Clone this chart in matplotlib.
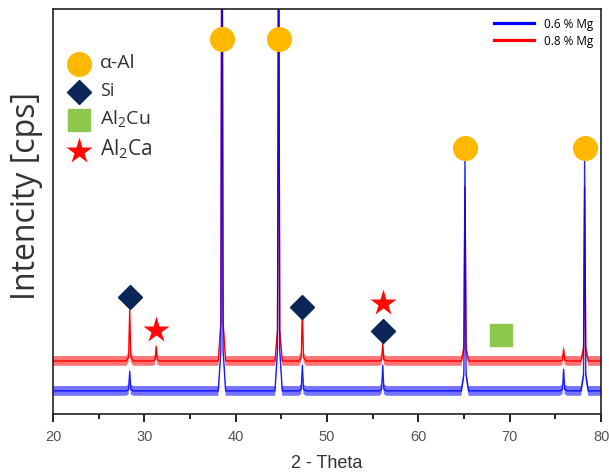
import matplotlib
matplotlib.use('Agg')
import matplotlib.pyplot as plt
import numpy as np

# peak positions (2-theta) and peak tops (arbitrary units, axis 0..100)
blue_base = 5.7
red_base = 13.1
blue_peaks = [28.4, 38.5, 44.7, 47.3, 56.1, 65.1, 75.9, 78.2]
blue_tops = [10.5, 150, 150, 12.0, 12.0, 63.5, 11.0, 62.5]
red_peaks = [28.4, 31.3, 38.5, 44.7, 47.3, 56.1, 65.1, 75.9, 78.2]
red_tops = [25.6, 16.6, 150, 120, 26.0, 17.4, 56.0, 16.0, 56.0]

# phase markers
al_x = [38.5, 44.7, 65.1, 78.2]
al_y = [92.6, 92.6, 65.7, 65.7]
si_x = [28.4, 47.3, 56.1]
si_y = [28.9, 26.4, 20.5]
cu_x = [69.0]
cu_y = [19.5]
ca_x = [31.3, 56.1]
ca_y = [20.7, 27.4]


def trace(peaks, tops, base):
    xs = [20.0]
    ys = [base]
    for p, t in zip(peaks, tops):
        h = t - base
        xs += [p - 0.4, p - 0.12, p, p + 0.12, p + 0.4]
        ys += [base, base + 0.07 * h, t, base + 0.07 * h, base]
    xs.append(80.0)
    ys.append(base)
    return np.array(xs), np.array(ys)


fig = plt.figure(figsize=(6.09, 4.77), dpi=100)
ax = fig.add_axes([0.087, 0.130, 0.900, 0.849])

rx, ry = trace(red_peaks, red_tops, red_base)
bx, by = trace(blue_peaks, blue_tops, blue_base)

ax.fill_between(rx, ry - 1.2, ry + 1.2, color='#ff0000', alpha=0.55, lw=0)
ax.plot(rx, ry, color='#ff0000', lw=1.0, label='0.8 % Mg')
ax.fill_between(bx, by - 1.2, by + 1.2, color='#0000ff', alpha=0.55, lw=0)
ax.plot(bx, by, color='#0000ff', lw=1.0, alpha=0.85, label='0.6 % Mg')

ms = 17
ax.plot(al_x, al_y, 'o', color='#ffb800', ms=ms, mec='#ffb800', zorder=5)
ax.plot(si_x, si_y, 'D', color='#0c2557', ms=ms * 0.72, zorder=5)
ax.plot(cu_x, cu_y, 's', color='#8cc84b', ms=ms * 0.9, zorder=5)
ax.plot(ca_x, ca_y, '*', color='#ff0a0a', ms=ms * 1.15, mec='none', zorder=5)

# phase legend
lx = 0.047
tx = 0.086
tc = '#333333'
ax.plot([lx], [0.864], 'o', color='#ffb800', ms=ms, transform=ax.transAxes, clip_on=False)
ax.plot([lx], [0.795], 'D', color='#0c2557', ms=ms * 0.72, transform=ax.transAxes, clip_on=False)
ax.plot([lx], [0.726], 's', color='#8cc84b', ms=ms * 0.9, transform=ax.transAxes, clip_on=False)
ax.plot([lx], [0.650], '*', color='#ff0a0a', ms=ms * 1.15, mec='none', transform=ax.transAxes, clip_on=False)
ax.text(tx, 0.868, '\u03b1-Al', transform=ax.transAxes, va='center', fontsize=14,
        family='Open Sans', color=tc)
ax.text(tx, 0.799, 'Si', transform=ax.transAxes, va='center', fontsize=13,
        family='Open Sans', color=tc)
ax.text(tx, 0.730, r'Al$_\mathregular{2}$Cu', transform=ax.transAxes, va='center', fontsize=14,
        family='Open Sans', color=tc)
ax.text(tx, 0.656, r'Al$_\mathregular{2}$Ca', transform=ax.transAxes, va='center', fontsize=15,
        family='Open Sans', color=tc)

handles, labels = ax.get_legend_handles_labels()
leg = ax.legend(handles[::-1], labels[::-1], loc='upper right', frameon=False,
                handlelength=3.4, borderaxespad=0.3, labelspacing=0.35,
                prop={'family': 'Open Sans', 'size': 8.5})
for h in leg.get_lines():
    h.set_linewidth(2.3)
    h.set_alpha(1)

ax.set_xlim(20, 80)
ax.set_ylim(0, 100)
ax.set_yticks([])
ax.set_xticks(np.arange(20, 81, 10))
ax.set_xticks(np.arange(25, 80, 10), minor=True)
ax.tick_params(axis='x', which='major', length=6, width=1.2, labelsize=10.5,
               labelcolor='#555555', pad=5)
ax.tick_params(axis='x', which='minor', length=3.5, width=1.2)
for lab in ax.get_xticklabels():
    lab.set_family('Liberation Sans')
for s in ax.spines.values():
    s.set_linewidth(1.2)
    s.set_color('#222222')

ax.set_xlabel('2 - Theta', fontsize=13, family='Liberation Sans', color='#333333', labelpad=8)
fig.text(0.044, 0.59, 'Intencity [cps]', rotation=90, va='center', ha='center',
         fontsize=23, family='Open Sans', color='#333333')

fig.savefig('out.png', dpi=100)
